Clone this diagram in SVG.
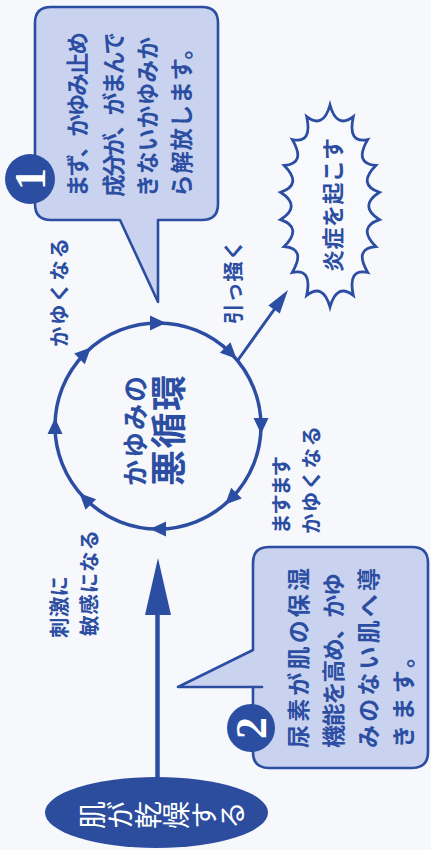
<svg xmlns="http://www.w3.org/2000/svg" width="431" height="850" viewBox="0 0 431 850">
<defs>
<style>
.ln{fill:none;stroke:#2c4ea2;stroke-linejoin:round;stroke-linecap:round}
.box{fill:#c9d3ef;stroke:#2c4ea2;stroke-width:2.6;stroke-linejoin:round}
.t{font-family:"Noto Sans CJK JP","Noto Sans CJK SC",sans-serif;font-weight:700;fill:#2c4ea2;dominant-baseline:central}
.num{font-family:"Liberation Serif","DejaVu Serif",serif;font-weight:700;fill:#ffffff;dominant-baseline:central;text-anchor:middle}
.ah{fill:#2c4ea2}
</style>
<path id="ah" d="M8,0 L-8,-7.5 L-8,7.5 Z"/>
</defs>
<rect x="0" y="0" width="431" height="850" fill="#f7f8fc"/>

<g id="connectors">
  <line class="ln" x1="157.5" y1="612" x2="157.5" y2="778" stroke-width="4.5"/>
  <path class="ah" d="M158,558 L171,615 L145,615 Z"/>
  <line class="ln" x1="238" y1="360" x2="276" y2="307" stroke-width="3"/>
  <path class="ah" d="M288,290 L279.8,313.6 L268.4,305.4 Z"/>
  <text class="t" font-size="20.5" transform="translate(58,347) rotate(-90)" textLength="109" lengthAdjust="spacing">かゆくなる</text>
  <text class="t" font-size="20.5" transform="translate(232,324) rotate(-90)" textLength="84" lengthAdjust="spacing">引っ掻く</text>
  <text class="t" font-size="20.5" transform="translate(280,534) rotate(-90)" textLength="78" lengthAdjust="spacing">ますます</text>
  <text class="t" font-size="20.5" transform="translate(310,534) rotate(-90)" textLength="108" lengthAdjust="spacing">かゆくなる</text>
  <text class="t" font-size="20.5" transform="translate(58,638) rotate(-90)" textLength="62" lengthAdjust="spacing">刺激に</text>
  <text class="t" font-size="20.5" transform="translate(88,636) rotate(-90)" textLength="106" lengthAdjust="spacing">敏感になる</text>
</g>

<g id="node-cycle">
  <circle class="ln" cx="158" cy="426" r="103" stroke-width="3.5"/>
  <use href="#ah" class="ah" transform="translate(158,426) rotate(-90) translate(103,0) rotate(90)"/>
  <use href="#ah" class="ah" transform="translate(158,426) rotate(-45) translate(103,0) rotate(90)"/>
  <use href="#ah" class="ah" transform="translate(158,426) rotate(0) translate(103,0) rotate(90)"/>
  <use href="#ah" class="ah" transform="translate(158,426) rotate(45) translate(103,0) rotate(90)"/>
  <use href="#ah" class="ah" transform="translate(158,426) rotate(90) translate(103,0) rotate(90)"/>
  <use href="#ah" class="ah" transform="translate(158,426) rotate(135) translate(103,0) rotate(90)"/>
  <use href="#ah" class="ah" transform="translate(158,426) rotate(180) translate(103,0) rotate(90)"/>
  <use href="#ah" class="ah" transform="translate(158,426) rotate(225) translate(103,0) rotate(90)"/>
  <text class="t" font-size="26" transform="translate(133,486) rotate(-90)" textLength="110" lengthAdjust="spacing">かゆみの</text>
  <text class="t" font-size="36" font-weight="900" transform="translate(166,486) rotate(-90)" textLength="111" lengthAdjust="spacing">悪循環</text>
</g>

<g id="node-box1">
  <path class="box" d="M51,7 H202 Q218,7 218,23 V204 Q218,220 202,220 H158 V302 L120,220 H51 Q35,220 35,204 V23 Q35,7 51,7 Z"/>
  <circle cx="30" cy="179" r="25" fill="#2c4ea2"/>
  <text class="num" font-size="44" transform="translate(30,179) rotate(-90)">1</text>
  <text class="t" font-size="22.5" transform="translate(76,197) rotate(-90)" textLength="165" lengthAdjust="spacing">まず、かゆみ止め</text>
  <text class="t" font-size="22.5" transform="translate(112,197) rotate(-90)" textLength="165" lengthAdjust="spacing">成分が、がまんで</text>
  <text class="t" font-size="22.5" transform="translate(146,197) rotate(-90)" textLength="160" lengthAdjust="spacing">きないかゆみか</text>
  <text class="t" font-size="22.5" transform="translate(180,197) rotate(-90)" textLength="160" lengthAdjust="spacing">ら解放します。</text>
</g>

<g id="node-burst">
  <path d="M330,105 Q336.7,129.3 353.3,116.7 Q347.4,144 367.7,139.6 Q353.6,163.7 375.8,165.4 Q356.9,184.6 379.5,192.3 Q358,206 379.5,219.7 Q356.9,227.4 375.8,246.6 Q353.6,248.3 367.7,272.4 Q347.4,268 353.3,295.3 Q336.7,282.7 330,307 Q323.3,282.7 306.7,295.3 Q312.6,268 292.3,272.4 Q306.4,248.3 284.2,246.6 Q303.1,227.4 280.5,219.7 Q302,206 280.5,192.3 Q303.1,184.6 284.2,165.4 Q306.4,163.7 292.3,139.6 Q312.6,144 306.7,116.7 Q323.3,129.3 330,105 Z" fill="#f8f9fd" stroke="#2c4ea2" stroke-width="2.8" stroke-linejoin="miter"/>
  <text class="t" font-size="22" transform="translate(331,272) rotate(-90)" textLength="134" lengthAdjust="spacing">炎症を起こす</text>
</g>

<g id="node-box2">
  <path class="box" d="M269,547 H412 Q428,547 428,563 V752 Q428,768 412,768 H269 Q253,768 253,752 V687 H178 L253,650 V563 Q253,547 269,547 Z"/>
  <line class="ln" x1="253" y1="687" x2="262" y2="687" stroke-width="2.6"/>
  <circle cx="251" cy="728" r="24" fill="#2c4ea2"/>
  <text class="num" font-size="44" transform="translate(251,728) rotate(-90)">2</text>
  <text class="t" font-size="23" transform="translate(297,748) rotate(-90)" textLength="180" lengthAdjust="spacing">尿素が肌の保湿</text>
  <text class="t" font-size="23" transform="translate(332,748) rotate(-90)" textLength="175" lengthAdjust="spacing">機能を高め、かゆ</text>
  <text class="t" font-size="23" transform="translate(367,748) rotate(-90)" textLength="180" lengthAdjust="spacing">みのない肌へ導</text>
  <text class="t" font-size="23" transform="translate(402,748) rotate(-90)" textLength="103" lengthAdjust="spacing">きます。</text>
</g>

<g id="node-dry">
  <ellipse cx="156.5" cy="812.5" rx="111.5" ry="35.5" fill="#2c4c9e"/>
  <text font-family="Noto Sans CJK JP, Noto Sans CJK SC, sans-serif" font-size="28" fill="#ffffff" writing-mode="vertical-rl" text-anchor="middle" transform="translate(162,815) rotate(-90)">肌が乾燥する</text>
</g>
</svg>
